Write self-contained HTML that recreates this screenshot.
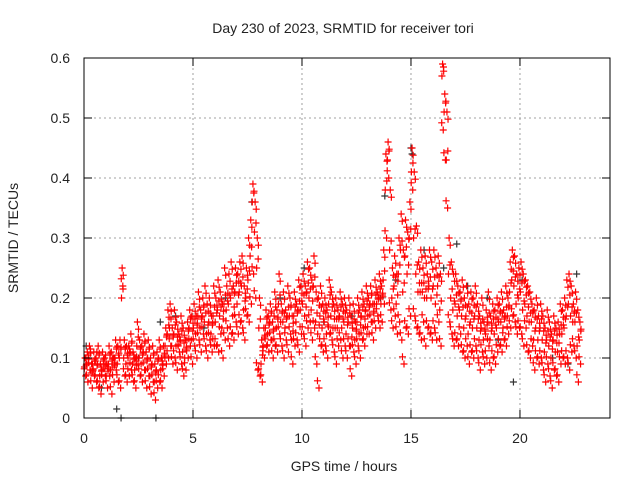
<!DOCTYPE html>
<html><head><meta charset="utf-8"><style>
body{margin:0;background:#fff;}
svg text{font-family:"Liberation Sans",sans-serif;font-size:14px;fill:#222;}
</style></head><body>
<svg id="chart" width="640" height="480" xmlns="http://www.w3.org/2000/svg">
<rect width="640" height="480" fill="#fff"/>
<g id="grid"></g><g id="pts"></g><g id="axes"></g>
</svg>
<script>
const xTicks=[0,5,10,15,20];
const yTicks=[0,0.1,0.2,0.3,0.4,0.5,0.6];
const yTickLabels=["0","0.1","0.2","0.3","0.4","0.5","0.6"];
const hours=[0,1,2,3,4,5,6,7,8,9,10,11,12,13,14,15,16,17,18,19,20,21,22];
const redUpper=[
[.10,.11,.12,.09,.11,.10,.12,.09,.11,.10],
[.09,.12,.11,.10,.13,.12,.13,.25,.13,.12],
[.12,.14,.11,.10,.16,.13,.12,.14,.11,.13],
[.10,.12,.09,.11,.13,.10,.12,.15,.18,.19],
[.15,.18,.16,.14,.17,.15,.13,.16,.18,.17],
[.19,.17,.21,.18,.20,.22,.19,.20,.17,.22],
[.20,.23,.21,.19,.25,.22,.24,.26,.22,.25],
[.24,.26,.27,.22,.25,.30,.33,.39,.36,.30],
[.20,.13,.15,.18,.17,.19,.16,.21,.18,.24],
[.19,.21,.18,.22,.20,.17,.21,.19,.23,.22],
[.24,.22,.26,.25,.23,.27,.21,.20,.22,.19],
[.20,.18,.23,.21,.19,.20,.18,.21,.19,.20],
[.18,.20,.17,.19,.16,.20,.18,.21,.19,.22],
[.20,.22,.19,.23,.21,.24,.22,.28,.44,.46],
[.38,.25,.27,.24,.30,.34,.28,.33,.31,.36],
[.45,.41,.32,.26,.28,.25,.27,.24,.28,.26],
[.28,.25,.27,.24,.59,.54,.51,.30,.26,.24],
[.24,.22,.21,.23,.20,.22,.19,.21,.20,.22],
[.19,.17,.20,.16,.18,.21,.17,.19,.18,.20],
[.19,.21,.18,.22,.20,.26,.28,.27,.24,.25],
[.26,.24,.23,.22,.21,.19,.18,.20,.17,.19],
[.17,.15,.18,.16,.14,.17,.15,.16,.19,.18],
[.20,.23,.24,.22,.19,.21,.18,.16]];
const redMid=[
[.085,.09,.10,.075,.08,.095,.09,.07,.08,.09],
[.07,.09,.08,.085,.10,.09,.10,.20,.10,.09],
[.10,.11,.09,.08,.12,.10,.09,.11,.08,.10],
[.07,.09,.06,.08,.10,.08,.09,.12,.14,.15],
[.12,.14,.12,.12,.13,.11,.10,.13,.15,.13],
[.15,.14,.17,.15,.17,.16,.14,.16,.14,.17],
[.16,.18,.17,.15,.19,.18,.19,.20,.17,.21],
[.19,.21,.22,.18,.20,.23,.27,.36,.31,.25],
[.15,.09,.12,.15,.14,.16,.13,.17,.15,.19],
[.16,.16,.15,.17,.17,.13,.17,.16,.18,.18],
[.19,.17,.21,.20,.18,.22,.16,.14,.17,.15],
[.16,.14,.19,.17,.15,.15,.15,.17,.15,.16],
[.14,.16,.12,.15,.13,.16,.14,.17,.15,.18],
[.17,.19,.16,.19,.19,.20,.19,.23,.38,.43],
[.28,.20,.22,.19,.24,.28,.21,.27,.24,.30],
[.41,.30,.24,.21,.21,.21,.20,.20,.22,.20],
[.22,.19,.22,.18,.57,.51,.43,.24,.20,.18],
[.19,.17,.18,.17,.15,.17,.14,.16,.15,.17],
[.15,.13,.15,.13,.14,.16,.13,.15,.14,.15],
[.16,.16,.15,.17,.17,.21,.23,.22,.19,.20],
[.21,.18,.19,.17,.16,.16,.13,.15,.13,.15],
[.13,.11,.13,.12,.10,.13,.11,.11,.14,.14],
[.15,.17,.19,.17,.16,.16,.12,.13]];
const redLower=[
[.07,.06,.08,.05,.07,.06,.05,.04,.06,.07],
[.05,.07,.04,.06,.08,.06,.05,.22,.07,.06],
[.07,.08,.06,.05,.09,.07,.06,.08,.05,.07],
[.04,.06,.03,.05,.06,.05,.07,.09,.10,.12],
[.09,.10,.08,.11,.09,.07,.08,.10,.12,.09],
[.12,.10,.13,.11,.14,.12,.10,.13,.11,.12],
[.12,.11,.14,.10,.13,.15,.12,.14,.13,.16],
[.14,.16,.15,.13,.17,.16,.19,.24,.20,.08],
[.07,.06,.10,.12,.11,.13,.10,.12,.11,.14],
[.12,.10,.13,.11,.14,.09,.12,.13,.11,.14],
[.14,.12,.15,.16,.13,.15,.09,.05,.12,.11],
[.12,.10,.14,.13,.11,.09,.12,.13,.10,.12],
[.10,.12,.07,.11,.09,.12,.10,.13,.12,.14],
[.14,.16,.13,.15,.17,.15,.16,.19,.30,.40],
[.18,.15,.17,.14,.16,.13,.09,.15,.14,.17],
[.38,.17,.15,.14,.13,.16,.12,.15,.14,.13],
[.15,.13,.16,.12,.48,.43,.35,.16,.14,.12],
[.13,.12,.14,.11,.10,.12,.09,.11,.10,.12],
[.10,.08,.11,.09,.10,.12,.08,.10,.09,.11],
[.12,.11,.13,.12,.14,.15,.17,.16,.14,.15],
[.14,.12,.15,.11,.10,.12,.08,.10,.09,.10],
[.08,.06,.09,.07,.05,.08,.07,.06,.09,.10],
[.09,.10,.08,.11,.12,.10,.06,.09]];
const grayT=[0.1,1.5,1.7,3.3,3.5,4.2,7.7,9.0,10.1,11.0,13.6,13.8,14.3,15.0,15.05,15.6,16.5,17.1,17.6,18.5,19.0,19.7,20.1,21.5,22.2,22.6,5.5,6.5,8.8,12.3,2.5,0.8];
const grayV=[.12,.015,0,0,.16,.17,.36,.2,.25,.16,.20,.37,.23,.45,.44,.28,.25,.29,.22,.2,.13,.06,.23,.1,.09,.24,.15,.2,.12,.17,.1,.05];

const L=84,R=610,T=58,B=418,XMAX=24.13,YMAX=0.6;
const X=v=>L+v/XMAX*(R-L), Y=v=>B-v/YMAX*(B-T);
const NS="http://www.w3.org/2000/svg";
function mk(tag,attrs,parent,text){const e=document.createElementNS(NS,tag);for(const k in attrs)e.setAttribute(k,attrs[k]);if(text!==undefined)e.textContent=text;parent.appendChild(e);return e;}
const grid=document.getElementById('grid'),pts=document.getElementById('pts'),axes=document.getElementById('axes');
xTicks.forEach(t=>{const x=X(t);
 if(t>0){const g=mk('line',{x1:x,y1:T,x2:x,y2:B,stroke:'#a0a0a0','stroke-dasharray':'2,3'},grid);
 
 }
 mk('line',{x1:x,y1:B,x2:x,y2:B-8,stroke:'#000'},axes);mk('line',{x1:x,y1:T,x2:x,y2:T+8,stroke:'#000'},axes);
 const lb=mk('text',{x:x,y:443,'text-anchor':'middle'},axes,String(t));
 
 });
yTicks.forEach((t,i)=>{const y=Y(t);
 if(t>0&&t<YMAX){const g=mk('line',{x1:L,y1:y,x2:R,y2:y,stroke:'#a0a0a0','stroke-dasharray':'2,3'},grid);
 
 }
 mk('line',{x1:L,y1:y,x2:L+8,y2:y,stroke:'#000'},axes);mk('line',{x1:R,y1:y,x2:R-8,y2:y,stroke:'#000'},axes);
 const lb=mk('text',{x:70,y:y+5,'text-anchor':'end'},axes,yTickLabels[i]);
 
 });
function plus(t,v,col,name){const x=X(t),y=Y(v);
 const p=mk('path',{d:`M${x-3.5},${y}H${x+3.5}M${x},${y-3.5}V${y+3.5}`,stroke:col,'stroke-width':1.2,fill:'none'},pts);
 
 }
grayT.forEach((t,i)=>plus(t,grayV[i],'#333','gray-point'));
hours.forEach((h,hi)=>{
 redUpper[hi].forEach((v,j)=>{plus(h+(j+0.5)/10,v,'#ff0000','red-point');plus(h+(j+0.5)/10+0.05,v-0.012,'#ff0000','red-point');});
 redMid[hi].forEach((v,j)=>{plus(h+(j+0.5)/10-0.03,v,'#ff0000','red-point');plus(h+(j+0.5)/10+0.04,v+0.015,'#ff0000','red-point');});
 redLower[hi].forEach((v,j)=>{plus(h+(j+0.5)/10+0.03,v,'#ff0000','red-point');plus(h+(j+0.5)/10-0.04,v+0.012,'#ff0000','red-point');});
});
const box=mk('rect',{x:L,y:T,width:R-L,height:B-T,fill:'none',stroke:'#000'},axes);


</script>
<svg style="position:absolute;left:0;top:0" width="640" height="480">
<text x="343" y="33" text-anchor="middle" style="font-family:'Liberation Sans',sans-serif;font-size:14px;fill:#222">Day 230 of 2023, SRMTID for receiver tori</text>
<text x="344" y="471" text-anchor="middle" style="font-family:'Liberation Sans',sans-serif;font-size:14px;fill:#222">GPS time / hours</text>
<text x="18" y="238" text-anchor="middle" transform="rotate(-90 18 238)" style="font-family:'Liberation Sans',sans-serif;font-size:14px;fill:#222">SRMTID / TECUs</text>
</svg>
</body></html>
